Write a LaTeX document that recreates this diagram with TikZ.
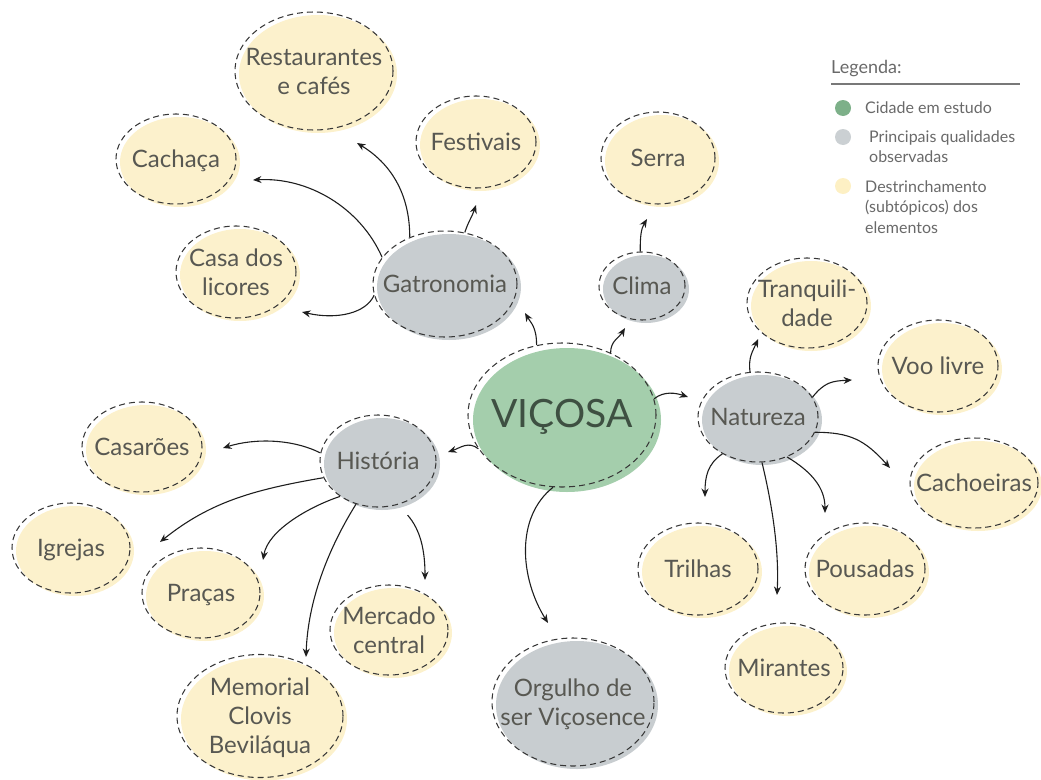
\documentclass[tikz,border=0pt]{standalone}
\usepackage{fontspec}
\setmainfont{Lato}
\usetikzlibrary{shapes.geometric,arrows.meta}

\definecolor{vgreen}{RGB}{164,206,172}
\definecolor{qgray}{RGB}{200,205,208}
\definecolor{syellow}{RGB}{252,241,204}
\definecolor{dashc}{RGB}{55,55,55}
\definecolor{txtc}{RGB}{88,88,82}
\definecolor{vtxt}{RGB}{62,80,66}
\definecolor{legc}{RGB}{105,105,105}
\definecolor{legline}{RGB}{120,120,120}
\definecolor{dotgreen}{RGB}{125,176,137}
\definecolor{dotgray}{RGB}{203,208,211}
\definecolor{dotyellow}{RGB}{253,240,196}
\definecolor{arrc}{RGB}{30,30,30}

% centred text of no width, set a little low, so the ellipse keeps its given size
\newcommand\lbl[1]{\raisebox{-3pt}[\height][\depth]{\makebox[0pt]{\begin{tabular}{@{}c@{}}#1\end{tabular}}}}
% left aligned block whose baseline is that of its first line
\newcommand\lgd[1]{\begin{tabular}[t]{@{}l@{}}#1\end{tabular}}

\begin{document}
\begin{tikzpicture}[x=1pt,y=-1pt,
  bub/.style={ellipse, inner sep=0pt, draw=dashc, line width=1.05pt,
    dash pattern=on 6pt off 4pt, text=txtc,
    font=\fontsize{24}{29}\selectfont},
  sz/.style 2 args={minimum width=#1, minimum height=#2},
  sub/.style={bub, preaction={fill=syellow, draw=none,
    transform canvas={shift={(4pt,-3pt)}}}},
  topic/.style={bub, preaction={fill=qgray, draw=none,
    transform canvas={shift={(4pt,-3pt)}}}},
  city/.style={bub, text=vtxt, font=\fontsize{39}{46}\selectfont,
    preaction={fill=vgreen, draw=none,
    transform canvas={shift={(5pt,-5pt)}}}},
  arr/.style={draw=arrc, line width=1.1pt,
    -{Stealth[length=8.5pt,width=7pt]}},
  ldot/.style={circle, inner sep=0pt, minimum size=16pt},
  ltxt/.style={anchor=base west, inner sep=0pt, text=legc,
    font=\fontsize{16}{20.5}\selectfont},
]
\useasboundingbox (0,0) rectangle (1041,779);

% central city
\node[city, sz={188pt}{144pt}] (vic) at (562,415) {\lbl{VIÇOSA}};

% main qualities
\node[topic, sz={144pt}{106pt}] (gat) at (445,284) {\lbl{Gatronomia}};
\node[topic, sz={86pt}{68pt}]   (cli) at (642,286) {\lbl{Clima}};
\node[topic, sz={120pt}{90pt}]  (nat) at (758,417) {\lbl{Natureza}};
\node[topic, sz={116pt}{92pt}]  (his) at (378,461) {\lbl{História}};
\node[topic, sz={162pt}{128pt}] (org) at (573,702) {\lbl{Orgulho de\\ser Viçosence}};

% sub-topics
\node[sub, sz={158pt}{118pt}] (res) at (314,71)  {\lbl{Restaurantes\\e cafés}};
\node[sub, sz={120pt}{90pt}]  (cac) at (176,159) {\lbl{Cachaça}};
\node[sub, sz={120pt}{92pt}]  (fes) at (476,142) {\lbl{Festivais}};
\node[sub, sz={120pt}{92pt}]  (lic) at (236,272) {\lbl{Casa dos\\licores}};
\node[sub, sz={114pt}{92pt}]  (ser) at (658,158) {\lbl{Serra}};
\node[sub, sz={120pt}{90pt}]  (tra) at (807,303) {\lbl{Tranquili-\\dade}};
\node[sub, sz={120pt}{92pt}]  (voo) at (938,366) {\lbl{Voo livre}};
\node[sub, sz={128pt}{90pt}]  (cho) at (974,483) {\lbl{Cachoeiras}};
\node[sub, sz={120pt}{92pt}]  (tri) at (698,569) {\lbl{Trilhas}};
\node[sub, sz={120pt}{92pt}]  (pou) at (865,569) {\lbl{Pousadas}};
\node[sub, sz={118pt}{90pt}]  (mir) at (784,668) {\lbl{Mirantes}};
\node[sub, sz={120pt}{90pt}]  (csr) at (142,447) {\lbl{Casarões}};
\node[sub, sz={118pt}{90pt}]  (igr) at (71,548)  {\lbl{Igrejas}};
\node[sub, sz={118pt}{90pt}]  (pra) at (201,593) {\lbl{Praças}};
\node[sub, sz={118pt}{90pt}]  (mer) at (389,630) {\lbl{Mercado\\central}};
\node[sub, sz={166pt}{122pt}] (mem) at (260,716) {\lbl{Memorial\\Clovis\\Beviláqua}};

% arrow tips, short of the bubbles they point to
\coordinate (t-res) at (357,143);
\coordinate (t-cac) at (253,180);
\coordinate (t-lic) at (302,312);
\coordinate (t-fes) at (476,205);
\coordinate (t-ser) at (647,219);
\coordinate (t-gat) at (525,313);
\coordinate (t-cli) at (625,328);
\coordinate (t-nat) at (688,397);
\coordinate (t-his) at (448,452);
\coordinate (t-org) at (548,623);
\coordinate (t-csr) at (223,448);
\coordinate (t-igr) at (160,542);
\coordinate (t-pra) at (263,560);
\coordinate (t-mem) at (306,657);
\coordinate (t-mer) at (425,580);
\coordinate (t-tra) at (758,339);
\coordinate (t-voo) at (852,380);
\coordinate (t-cho) at (890,468);
\coordinate (t-tri) at (705,497);
\coordinate (t-mir) at (777,595);
\coordinate (t-pou) at (825,513);

% city to its qualities
\draw[arr] (vic.110) .. controls +(0,-18) and +(6,10) .. (t-gat);
\draw[arr] (vic.52) .. controls +(0,-12) and +(-6,10) .. (t-cli);
\draw[arr] (vic.10) .. controls +(10,-8) and +(-12,-4) .. (t-nat);
\draw[arr] (vic.202) .. controls +(-10,-8) and +(12,-4) .. (t-his);
\draw[arr] (vic.263) .. controls +(-38,30) and +(-28,-45) .. (t-org);

% gastronomy
\draw[arr] (gat.127) .. controls +(0,-50) and +(28,17) .. (t-res);
\draw[arr] (gat.157) .. controls +(-22,-50) and +(55,-3) .. (t-cac);
\draw[arr] (gat.189) .. controls +(-8,18) and +(35,8) .. (t-lic);
\draw[arr] (gat.69) .. controls +(4,-12) and +(-4,12) .. (t-fes);

% climate
\draw[arr] (cli.93) .. controls +(0,-15) and +(-6,10) .. (t-ser);

% history
\draw[arr] (his.172) .. controls +(-28,-14) and +(32,-10) .. (t-csr);
\draw[arr] (his.197) .. controls +(-70,12) and +(50,-40) .. (t-igr);
\draw[arr] (his.223) .. controls +(-30,10) and +(5,-30) .. (t-pra);
\draw[arr] (his.243) .. controls +(-25,40) and +(2,-60) .. (t-mem);
\draw[arr, shorten <=14pt] (his.295) .. controls +(22,25) and +(0,-30) .. (t-mer);

% nature
\draw[arr] (nat.100) .. controls +(-2,-15) and +(-5,12) .. (t-tra);
\draw[arr] (nat.20) .. controls +(12,-15) and +(-20,1) .. (t-voo);
\draw[arr] (nat.345) .. controls +(35,0) and +(-25,-28) .. (t-cho);
\draw[arr] (nat.226) .. controls +(-15,10) and +(0,-20) .. (t-tri);
\draw[arr] (nat.275) .. controls +(12,50) and +(2,-40) .. (t-mir);
\draw[arr] (nat.306) .. controls +(25,15) and +(0,-25) .. (t-pou);

% legend
\node[anchor=base west, inner sep=0pt, text=legc,
  font=\fontsize{18}{22}\selectfont] (legt) at (831,73) {Legenda:};
\draw[legline, line width=1.2pt] (831,84) -- (1020,84);
\node[ldot, fill=dotgreen]  (dg) at (843,108) {};
\node[ldot, fill=dotgray]   (dq) at (843,137) {};
\node[ldot, fill=dotyellow] (dy) at (843,186) {};
\node[ltxt] (lg1) at (865,113) {Cidade em estudo};
\node[ltxt] (lg2) at (869,142) {\lgd{Principais qualidades\\observadas}};
\node[ltxt] (lg3) at (865,192) {\lgd{Destrinchamento\\(subtópicos) dos\\elementos}};
\end{tikzpicture}
\end{document}
